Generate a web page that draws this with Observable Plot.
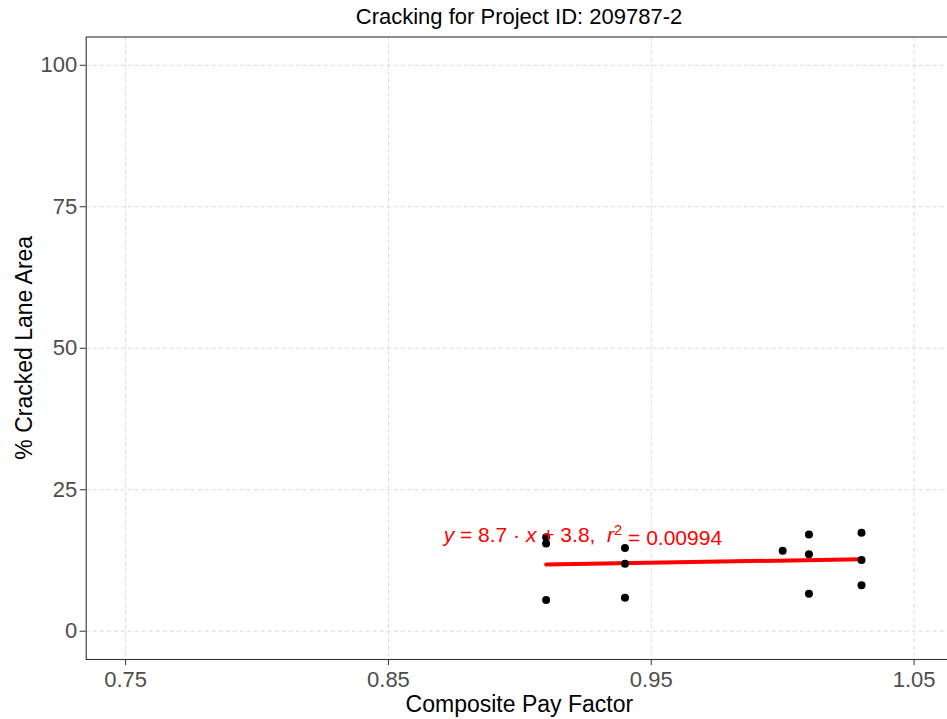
<!DOCTYPE html>
<html>
<head>
<meta charset="utf-8">
<script src="https://cdn.jsdelivr.net/npm/d3@7"></script>
<script src="https://cdn.jsdelivr.net/npm/@observablehq/plot@0.6"></script>
<style>
  html, body { margin: 0; padding: 0; background: #fff; overflow: hidden; }
  #wrap { position: relative; width: 947px; height: 719px; overflow: hidden; font-family: "Liberation Sans", Arial, sans-serif; }
  #chart { width: 953px; }
  #chart svg { max-width: none !important; display: block; }
  #title { position: absolute; left: 0; top: 4px; width: 1038px; text-align: center; font-size: 22px; color: #000; line-height: 26px; z-index: 2; }
</style>
</head>
<body>
<div id="wrap">
  <div id="title">Cracking for Project ID: 209787-2</div>
  <div id="chart"></div>
</div>
<script>
// Data
const payFactor = [0.91, 0.91, 0.91, 0.94, 0.94, 0.94, 1.00, 1.01, 1.01, 1.01, 1.03, 1.03, 1.03];
const cracked   = [16.6, 15.5, 5.5, 14.7, 11.9, 5.9, 14.2, 17.1, 13.6, 6.6, 17.4, 12.6, 8.1];
const xTicks = [0.75, 0.85, 0.95, 1.05];
const yTicks = [0, 25, 50, 75, 100];
const xTitle = "Composite Pay Factor";
const yTitle = "% Cracked Lane Area";
const eqSlope = "8.7", eqIntercept = "3.8", eqR2 = "0.00994";
const eqPos = [{x: 0.871, y: 15.8}];

const data = payFactor.map((x, i) => ({x, y: cracked[i]}));

const W = 953, H = 719;
const plot = Plot.plot({
  width: W,
  height: H,
  marginLeft: 85.7,
  marginRight: 0,
  marginTop: 36.5,
  marginBottom: 60,
  style: {fontFamily: '"Liberation Sans", Arial, sans-serif', background: "#fff", maxWidth: "none"},
  x: {domain: [0.735, 1.065]},
  y: {domain: [-5, 105]},
  marks: [
    Plot.gridX(xTicks, {stroke: "#d9d9d9", strokeOpacity: 1, strokeDasharray: "4,3", strokeWidth: 1}),
    Plot.gridY(yTicks, {stroke: "#d9d9d9", strokeOpacity: 1, strokeDasharray: "4,3", strokeWidth: 1}),
    Plot.frame({stroke: "#333", strokeWidth: 1.1}),
    Plot.axisX(xTicks, {tickFormat: d => d.toFixed(2), tickSize: 6, tickPadding: 5.5, fontSize: 22, fill: "#4d4d4d", stroke: "#333", label: null}),
    Plot.axisY(yTicks, {tickFormat: d => String(d), tickSize: 6, tickPadding: 3, fontSize: 22, fill: "#4d4d4d", stroke: "#333", label: null}),
    Plot.linearRegressionY(data, {x: "x", y: "y", stroke: "#ff0000", strokeWidth: 4, ci: 0}),
    Plot.dot(data, {x: "x", y: "y", r: 4, fill: "#000", stroke: "none"}),
    Plot.text(eqPos, {x: "x", y: "y", text: () => "eq", textAnchor: "start", lineAnchor: "bottom", fontSize: 21, fill: "#ff0000", className: "eqlabel"})
  ]
});
plot.style.maxWidth = "none";
document.getElementById("chart").appendChild(plot);

const svg = d3.select(plot);
// Equation label with italics and superscript
svg.selectAll(".eqlabel text").each(function() {
  const t = d3.select(this);
  t.text(null).style("white-space", "pre");
  t.append("tspan").attr("font-style", "italic").text("y");
  t.append("tspan").text(" = " + eqSlope + " \u00b7 ");
  t.append("tspan").attr("font-style", "italic").text("x");
  t.append("tspan").text(" + " + eqIntercept + ",  ");
  t.append("tspan").attr("font-style", "italic").text("r");
  t.append("tspan").attr("dy", "-0.45em").attr("font-size", "0.7em").text("2");
  t.append("tspan").attr("dy", "0.45em").text(" = " + eqR2);
});

// Axis titles
svg.append("text")
  .attr("x", (85.7 + W) / 2).attr("y", 712)
  .attr("text-anchor", "middle").attr("font-size", 23).attr("fill", "#000")
  .text(xTitle);
svg.append("text")
  .attr("transform", `translate(31.5, ${(36.5 + (H - 60)) / 2}) rotate(-90)`)
  .attr("text-anchor", "middle").attr("font-size", 23).attr("fill", "#000")
  .text(yTitle);
</script>
</body>
</html>
